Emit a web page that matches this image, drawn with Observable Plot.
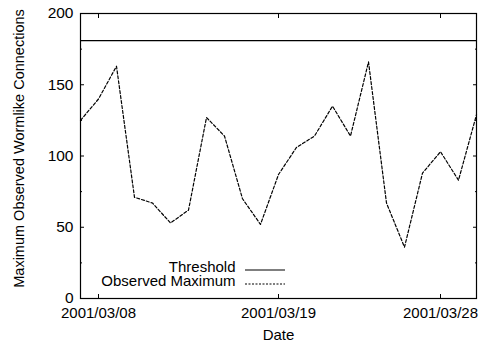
<!DOCTYPE html>
<html>
<head>
<meta charset="utf-8">
<script src="https://cdn.jsdelivr.net/npm/d3@7"></script>
<script src="https://cdn.jsdelivr.net/npm/@observablehq/plot@0.6"></script>
<style>
  html, body { margin: 0; padding: 0; background: white; }
  svg text { font-family: 'Liberation Sans', Arial, sans-serif; }
</style>
</head>
<body>
<div id="chart"></div>
<script>
// Data
const dates = [
  "2001/03/07", "2001/03/08", "2001/03/09", "2001/03/10", "2001/03/11", "2001/03/12",
  "2001/03/14", "2001/03/15", "2001/03/16", "2001/03/17", "2001/03/18", "2001/03/19",
  "2001/03/20", "2001/03/21", "2001/03/22", "2001/03/23", "2001/03/24", "2001/03/25",
  "2001/03/26", "2001/03/27", "2001/03/28", "2001/03/29", "2001/03/30"
];
const observed = [125, 140, 163, 71, 67, 53, 62, 127, 114, 70, 52, 87, 106, 114, 135, 114, 166, 67, 36, 88, 103, 83, 129];
const threshold = 181;
const xTickLabels = ["2001/03/08", "2001/03/19", "2001/03/28"];
const yTicks = [0, 50, 100, 150, 200];
const yMinorTicks = [25, 75, 125, 175];
const seriesNames = ["Threshold", "Observed Maximum"];
const xTitle = "Date";
const yTitle = "Maximum Observed Wormlike Connections";

const xTicks = xTickLabels.map(l => dates.indexOf(l));
const rows = observed.map((v, i) => ({i, v}));

const legend = (index, scales, values, dims) => {
  const g = d3.create("svg:g");
  const x0 = dims.marginLeft + 165, x1 = dims.marginLeft + 205;
  const yb = dims.height - dims.marginBottom;
  g.append("line").attr("x1", x0).attr("x2", x1).attr("y1", yb - 28).attr("y2", yb - 28)
    .attr("stroke", "black").attr("stroke-width", 1.2);
  g.append("line").attr("x1", x0).attr("x2", x1).attr("y1", yb - 14).attr("y2", yb - 14)
    .attr("stroke", "black").attr("stroke-width", 1.2).attr("stroke-dasharray", "2,1.5");
  return g.node();
};

const yTitleMark = (index, scales, values, dims) => {
  const cy = (dims.marginTop + dims.height - dims.marginBottom) / 2 - 7;
  return d3.create("svg:text")
    .attr("transform", `translate(24,${cy}) rotate(-90)`)
    .attr("text-anchor", "middle")
    .attr("font-size", 14.5)
    .attr("fill", "black")
    .text(yTitle)
    .node();
};

const chart = Plot.plot({
  width: 479,
  height: 343,
  marginLeft: 80,
  marginRight: 3,
  marginTop: 13,
  marginBottom: 45,
  style: {fontFamily: "'Liberation Sans', Arial, sans-serif", fontSize: "15px", background: "white", color: "black", overflow: "visible"},
  x: {domain: [0, dates.length - 1]},
  y: {domain: [0, 200]},
  marks: [
    Plot.ruleY([threshold], {stroke: "black", strokeWidth: 1.2}),
    Plot.line(rows, {x: "i", y: "v", stroke: "black", strokeWidth: 1.2, strokeDasharray: "3,2"}),
    Plot.axisY({ticks: yTicks, tickSize: 0, tickPadding: 7, label: null, fontSize: 15.5}),
    Plot.axisY({anchor: "left", ticks: yTicks, tickSize: -4, text: null, label: null}),
    Plot.axisY({anchor: "right", ticks: yTicks, tickSize: -4, text: null, label: null}),
    Plot.axisY({anchor: "left", ticks: yMinorTicks, tickSize: -2, text: null, label: null}),
    Plot.axisY({anchor: "right", ticks: yMinorTicks, tickSize: -2, text: null, label: null}),
    Plot.axisX({ticks: xTicks, tickFormat: i => dates[i], tickSize: 0, tickPadding: 9, label: null, fontSize: 15}),
    Plot.axisX({anchor: "bottom", ticks: xTicks, tickSize: -4, text: null, label: null}),
    Plot.axisX({anchor: "top", ticks: xTicks, tickSize: -4, text: null, label: null}),
    Plot.frame({stroke: "black", strokeWidth: 1.2}),
    Plot.text([xTitle], {frameAnchor: "bottom", dy: 41.5, fontSize: 15}),
    yTitleMark,
    Plot.text([seriesNames[0]], {frameAnchor: "bottom-left", dx: 155, dy: -27, textAnchor: "end", fontSize: 15}),
    Plot.text([seriesNames[1]], {frameAnchor: "bottom-left", dx: 155, dy: -13, textAnchor: "end", fontSize: 15}),
    legend
  ]
});
document.getElementById("chart").appendChild(chart);
</script>
</body>
</html>
